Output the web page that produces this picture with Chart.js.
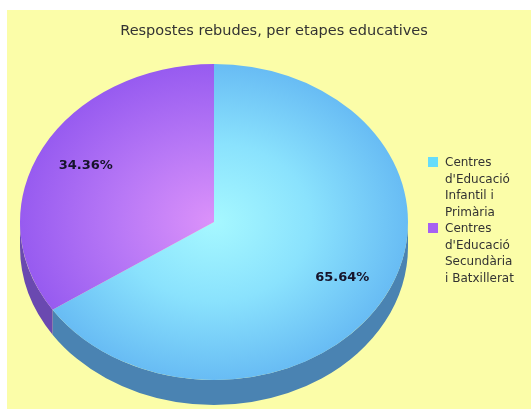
<!DOCTYPE html>
<html>
<head>
<meta charset="utf-8">
<script src="https://cdn.jsdelivr.net/npm/chart.js@4.4.1/dist/chart.umd.min.js"></script>
<style>
  body { margin: 0; background: #fff; }
  canvas { display: block; }
</style>
</head>
<body>
<canvas id="myChart" width="531" height="409"></canvas>
<script>
var title = "Respostes rebudes, per etapes educatives";
// categories (legend lines as in the picture)
var categories = [
  ["Centres", "d'Educació", "Infantil i", "Primària"],
  ["Centres", "d'Educació", "Secundària", "i Batxillerat"]
];
var values = [65.64, 34.36];
var topColors = [["#a6f8ff", "#8ae2fd", "#68bcf4"], ["#dc92fa", "#b878f6", "#975bf0"]];
var sideColors = ["#4a83b2", "#6a49b0"];
var legendColors = ["#66dcfa", "#a760f2"];

// where the flattened pie goes on the page
var PIE_X = 214, PIE_Y = 222, RX = 194, RY = 158, DEPTH = 25;

function sliceFill(context) {
  var chart = context.chart;
  var area = chart.chartArea;
  var c = topColors[context.dataIndex];
  if (!area) return c[2];
  var cx = (area.left + area.right) / 2, cy = (area.top + area.bottom) / 2;
  var r = Math.min(area.right - area.left, area.bottom - area.top) / 2;
  var g = chart.ctx.createRadialGradient(cx, cy, 0, cx, cy, r);
  g.addColorStop(0, c[0]);
  g.addColorStop(0.5, c[1]);
  g.addColorStop(1, c[2]);
  return g;
}

var pie3d = {
  id: 'pie3d',
  beforeDraw: function(chart) {
    var ctx = chart.ctx;
    ctx.save();
    ctx.fillStyle = "#ffffff";
    ctx.fillRect(0, 0, chart.width, chart.height);
    ctx.fillStyle = "#fbfda8";
    ctx.fillRect(7, 10, chart.width - 7, chart.height - 10);
    ctx.restore();
  },
  beforeDatasetsDraw: function(chart) {
    var ctx = chart.ctx;
    var meta = chart.getDatasetMeta(0);
    var first = meta.data[0];
    var cx = first.x, cy = first.y, r = first.outerRadius;
    var sx = RX / r, sy = RY / r;
    ctx.save();
    ctx.translate(PIE_X, PIE_Y);
    ctx.scale(sx, sy);
    ctx.translate(-cx, -cy);
    // the side wall, only the front half shows
    meta.data.forEach(function(arc, i) {
      [-2 * Math.PI, 0, 2 * Math.PI].forEach(function(k) {
        var lo = Math.max(arc.startAngle, k);
        var hi = Math.min(arc.endAngle, k + Math.PI);
        if (hi <= lo) return;
        ctx.beginPath();
        ctx.arc(cx, cy, r, lo, hi);
        ctx.arc(cx, cy + DEPTH / sy, r, hi, lo, true);
        ctx.closePath();
        ctx.fillStyle = sideColors[i];
        ctx.fill();
      });
    });
  },
  afterDatasetsDraw: function(chart) {
    var ctx = chart.ctx;
    ctx.restore();
    var meta = chart.getDatasetMeta(0);
    var total = values.reduce(function(a, b) { return a + b; }, 0);

    // percentages
    ctx.save();
    ctx.font = "bold 13px 'DejaVu Sans'";
    ctx.fillStyle = "#16132a";
    ctx.textAlign = "center";
    ctx.textBaseline = "middle";
    meta.data.forEach(function(arc, i) {
      var mid = (arc.startAngle + arc.endAngle) / 2;
      var x = PIE_X + Math.cos(mid) * RX * 0.75;
      var y = PIE_Y + Math.sin(mid) * RY * 0.75;
      ctx.fillText((values[i] / total * 100).toFixed(2) + "%", x, y);
    });

    // title
    ctx.font = "14.5px 'DejaVu Sans'";
    ctx.fillStyle = "#333333";
    ctx.fillText(title, 274, 31);

    // legend
    ctx.textAlign = "left";
    ctx.font = "12px 'DejaVu Sans'";
    var y = 163;
    categories.forEach(function(lines, i) {
      ctx.fillStyle = legendColors[i];
      ctx.fillRect(428, y - 6, 10, 10);
      ctx.fillStyle = "#333333";
      lines.forEach(function(line) {
        ctx.fillText(line, 445, y);
        y += 16.5;
      });
    });
    ctx.restore();
  }
};

var ctx = document.getElementById("myChart");
var myChart = new Chart(ctx, {
  type: 'pie',
  data: {
    labels: categories,
    datasets: [
      {
        data: values,
        backgroundColor: sliceFill,
        borderWidth: 0
      }
    ]
  },
  options: {
    responsive: false,
    animation: false,
    events: [],
    layout: { padding: { left: 20, right: 123, top: 10, bottom: 11 } },
    plugins: {
      legend: { display: false },
      tooltip: { enabled: false },
      title: { display: false }
    }
  },
  plugins: [pie3d]
});
</script>
</body>
</html>
